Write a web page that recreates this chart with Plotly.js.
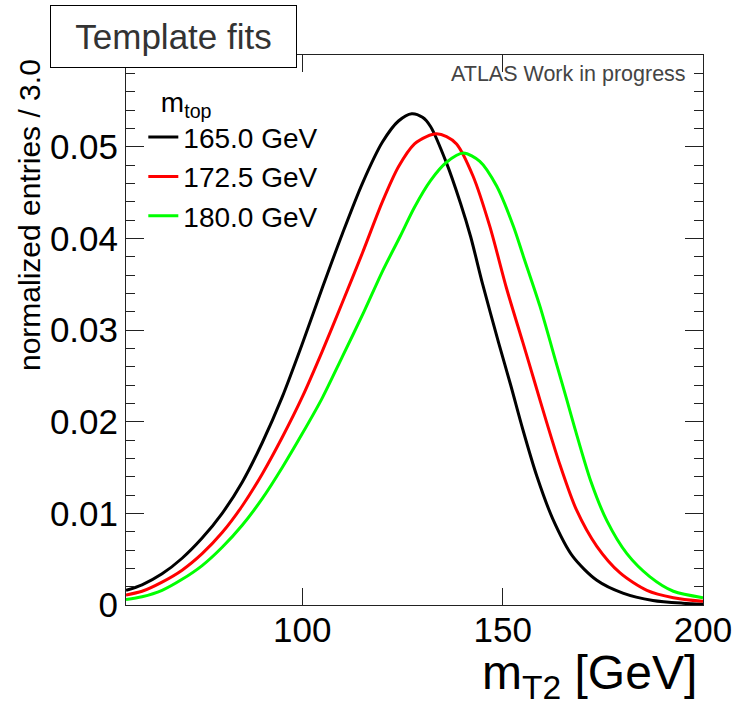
<!DOCTYPE html>
<html>
<head>
<meta charset="utf-8">
<script src="https://cdn.plot.ly/plotly-3.0.1.min.js"></script>
<style>
html,body{margin:0;padding:0;background:#fff;}
#chart{width:735px;height:705px;}
</style>
</head>
<body>
<div id="chart"></div>
<script>
// m_top = 165.0 GeV
const x165 = [56, 60, 65, 70, 75, 80, 85, 90, 95, 100, 105, 110, 115, 120, 124, 127.3, 130, 132, 136, 139.5, 142, 145, 149, 152, 155, 158.5, 162.5, 167.5, 173.5, 180, 187.5, 195, 200];
const y165 = [0.0016, 0.0022, 0.0034, 0.0051, 0.0073, 0.0100, 0.0134, 0.0177, 0.0227, 0.0285, 0.0346, 0.0405, 0.0460, 0.0505, 0.0528, 0.0536, 0.0532, 0.0522, 0.0482, 0.0438, 0.0402, 0.0350, 0.0286, 0.0240, 0.0192, 0.0141, 0.0094, 0.0053, 0.0027, 0.0013, 0.0005, 0.0002, 0.0001];
// m_top = 172.5 GeV
const x172 = [56, 60, 65, 70, 75, 80, 85, 90, 95, 100, 105, 110, 115, 120, 124, 128, 131, 133.5, 136, 138.5, 142.6, 146.8, 151, 155, 158, 161, 164.3, 168.4, 173.5, 179.3, 186, 192.6, 200];
const y172 = [0.0011, 0.0015, 0.0025, 0.0038, 0.0056, 0.0079, 0.0108, 0.0143, 0.0183, 0.0227, 0.0277, 0.0330, 0.0384, 0.0440, 0.0478, 0.0503, 0.0511, 0.0514, 0.0511, 0.0503, 0.0468, 0.0413, 0.0345, 0.0287, 0.0243, 0.0199, 0.0153, 0.0104, 0.0064, 0.0035, 0.0016, 0.0008, 0.0004];
// m_top = 180.0 GeV
const x180 = [56, 60, 65, 70, 75, 80, 85, 90, 95, 100, 105, 110, 115.4, 120, 124.4, 128, 132, 136, 140.2, 144.3, 148.5, 152.7, 155.2, 159.3, 163.5, 166, 168, 172, 176, 181, 186.7, 192.6, 200];
const y180 = [0.0006, 0.0009, 0.0016, 0.0028, 0.0043, 0.0063, 0.0087, 0.0116, 0.0150, 0.0187, 0.0226, 0.0271, 0.0320, 0.0364, 0.0402, 0.0434, 0.0463, 0.0483, 0.0493, 0.0484, 0.0457, 0.0413, 0.0380, 0.0326, 0.0262, 0.0224, 0.0193, 0.0135, 0.0092, 0.0056, 0.0031, 0.0015, 0.0008];

const seriesNames = ['165.0 GeV', '172.5 GeV', '180.0 GeV'];
const seriesColors = ['#000000', '#ff0000', '#00ff00'];
const xs = [x165, x172, x180];
const ys = [y165, y172, y180];

const FONT = '"Liberation Sans", Arial, Helvetica, sans-serif';

const traces = xs.map((x, i) => ({
  type: 'scatter', mode: 'lines', x: x, y: ys[i], name: seriesNames[i],
  line: {color: seriesColors[i], width: 3, shape: 'spline', smoothing: 0.8}
}));

const layout = {
  width: 735, height: 705,
  margin: {l: 126, r: 32, t: 55, b: 100, pad: 0},
  paper_bgcolor: '#fff', plot_bgcolor: '#fff',
  font: {family: FONT, color: '#000'},
  showlegend: true,
  legend: {
    x: 0.03, y: 0.962, xanchor: 'left', yanchor: 'top',
    bgcolor: 'rgba(0,0,0,0)', borderwidth: 0,
    font: {family: FONT, size: 28, color: '#000'},
    title: {text: '\u00a0\u00a0m<sub>top</sub>', font: {family: FONT, size: 28, color: '#000'}},
    tracegroupgap: 0, itemwidth: 30
  },
  xaxis: {
    range: [56, 200], tick0: 0, dtick: 50,
    showline: true, linecolor: '#222', linewidth: 1, mirror: 'ticks',
    ticks: 'inside', ticklen: 17, tickwidth: 1, tickcolor: '#222',
    ticklabelstandoff: -6,
    showgrid: false, zeroline: false,
    tickfont: {family: FONT, size: 35, color: '#000'}
  },
  yaxis: {
    range: [0, 0.06], tick0: 0, dtick: 0.01,
    showline: true, linecolor: '#222', linewidth: 1, mirror: 'ticks',
    ticks: 'inside', ticklen: 18, tickwidth: 1, tickcolor: '#222',
    minor: {dtick: 0.002, ticks: 'inside', ticklen: 9, tickwidth: 1, tickcolor: '#222', showgrid: false},
    showgrid: false, zeroline: false,
    tickfont: {family: FONT, size: 35, color: '#000'}
  },
  annotations: [
    {
      xref: 'paper', yref: 'paper', x: (173.5 - 126) / 577, y: (604.5 - 36.5) / 549.5,
      xanchor: 'center', yanchor: 'middle', showarrow: false,
      text: 'Template fits', font: {family: FONT, size: 35, color: '#333'},
      bgcolor: '#fff', bordercolor: '#000', borderwidth: 1, borderpad: 0,
      width: 245, height: 61
    },
    {
      xref: 'paper', yref: 'paper', x: (688 - 126) / 577, y: (604.5 - 73.5) / 549.5,
      xanchor: 'right', yanchor: 'middle', showarrow: false,
      text: 'ATLAS Work in progress', font: {family: FONT, size: 21.5, color: '#444'}
    },
    {
      xref: 'paper', yref: 'paper', x: (699 - 126) / 577, y: (604.5 - 675) / 549.5,
      xanchor: 'right', yanchor: 'middle', showarrow: false,
      text: 'm<sub>T2</sub> [GeV]', font: {family: FONT, size: 48, color: '#000'}
    },
    {
      xref: 'paper', yref: 'paper', x: (29 - 126) / 577, y: (604.5 - 57) / 549.5,
      xanchor: 'center', yanchor: 'top', showarrow: false, textangle: -90,
      text: 'normalized entries / 3.0', font: {family: FONT, size: 30, color: '#000'}
    }
  ]
};

Plotly.newPlot('chart', traces, layout, {displayModeBar: false, staticPlot: true});
</script>
</body>
</html>
